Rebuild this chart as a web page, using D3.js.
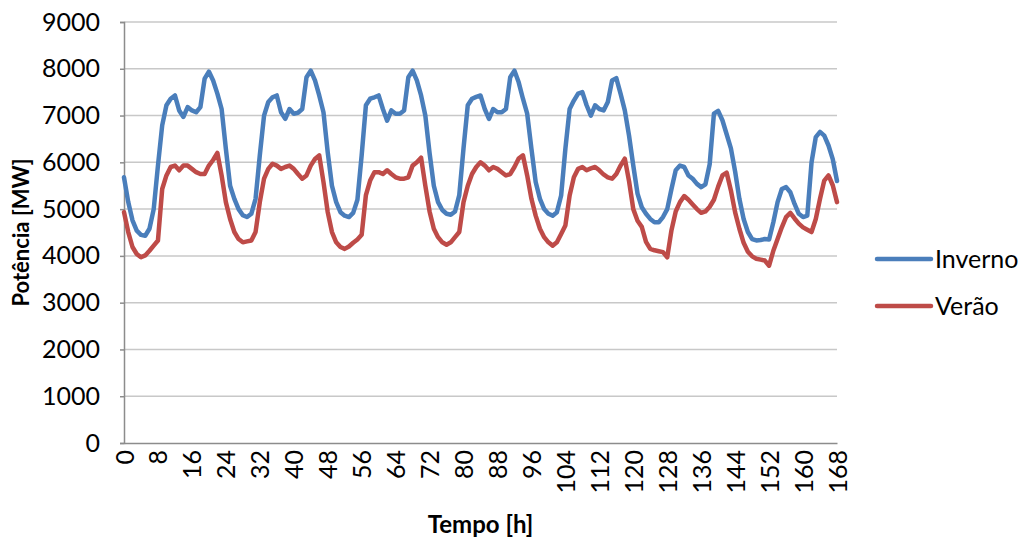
<!DOCTYPE html>
<html>
<head>
<meta charset="utf-8">
<script src="https://cdn.jsdelivr.net/npm/d3@7"></script>
<style>
  html, body { margin: 0; padding: 0; background: #ffffff; }
  svg { display: block; }
  text { font-family: Lato, "Open Sans", sans-serif; fill: #000; }
</style>
</head>
<body>
<svg id="chart" width="1019" height="539"></svg>
<script>
// Hourly load over one week (0..168 h), in MW
const hours = d3.range(0, 169);

const inverno = [
  5680, 5150, 4760, 4540, 4450, 4430, 4580, 5000, 5930, 6790, 7220, 7360, 7430, 7110, 6970, 7180,
  7110, 7070, 7180, 7790, 7940, 7750, 7470, 7140, 6290, 5500, 5220, 5000, 4870, 4830, 4900, 5220,
  6150, 7000, 7290, 7390, 7430, 7070, 6930, 7140, 7040, 7060, 7140, 7820, 7960, 7750, 7430, 7070,
  6215, 5500, 5150, 4935, 4860, 4830, 4920, 5200, 6150, 7220, 7360, 7390, 7430, 7140, 6890, 7110,
  7040, 7040, 7110, 7820, 7960, 7750, 7430, 7000, 6200, 5500, 5150, 4980, 4900, 4880, 4950, 5300,
  6300, 7220, 7360, 7400, 7430, 7140, 6930, 7140, 7070, 7070, 7140, 7820, 7960, 7710, 7360, 7040,
  6290, 5580, 5220, 5000, 4900, 4860, 4935, 5290, 6290, 7140, 7320, 7470, 7500, 7220, 7000, 7220,
  7140, 7110, 7290, 7750, 7800, 7470, 7110, 6570, 5930, 5330, 5040, 4900, 4790, 4720, 4720, 4830,
  5000, 5430, 5830, 5930, 5900, 5720, 5650, 5540, 5470, 5530, 5960, 7040, 7100, 6900, 6600, 6300,
  5800, 5220, 4790, 4510, 4360, 4330, 4340, 4360, 4350, 4720, 5150, 5430, 5470, 5360, 5110, 4900,
  4830, 4860, 6000, 6540, 6650, 6570, 6360, 6070, 5600
];

const verao = [
  4935, 4510, 4190, 4040, 3970, 4010, 4110, 4220, 4330, 5430, 5720, 5900, 5930, 5830, 5930, 5930,
  5860, 5790, 5750, 5750, 5930, 6050, 6200, 5720, 5150, 4790, 4510, 4360, 4290, 4310, 4330, 4510,
  5150, 5650, 5860, 5970, 5930, 5860, 5900, 5930, 5860, 5750, 5650, 5720, 5930, 6070, 6150, 5580,
  4935, 4510, 4290, 4190, 4150, 4200, 4280, 4350, 4450, 5300, 5610, 5790, 5790, 5750, 5830, 5750,
  5680, 5650, 5650, 5680, 5930, 6000, 6100, 5500, 4950, 4580, 4400, 4290, 4240, 4290, 4400, 4510,
  5150, 5500, 5750, 5900, 6000, 5930, 5830, 5900, 5860, 5790, 5720, 5750, 5900, 6080, 6150, 5720,
  5220, 4860, 4580, 4400, 4290, 4220, 4290, 4470, 4650, 5290, 5680, 5860, 5900, 5830, 5870, 5900,
  5830, 5740, 5680, 5650, 5750, 5930, 6080, 5600, 5000, 4750, 4620, 4300, 4150, 4120, 4100, 4080,
  3970, 4550, 4950, 5150, 5280, 5200, 5100, 5000, 4920, 4950, 5050, 5200, 5480, 5720, 5780, 5400,
  4930, 4580, 4280, 4090, 3990, 3940, 3920, 3900, 3790, 4110, 4360, 4610, 4830, 4920, 4800, 4690,
  4610, 4560, 4510, 4790, 5220, 5610, 5720, 5510, 5150
];

const yTicks = [0, 1000, 2000, 3000, 4000, 5000, 6000, 7000, 8000, 9000];
const xTicks = d3.range(0, 169, 8);

const seriesNames = ["Inverno", "Verão"];
const seriesColors = ["#4a7ebb", "#be4b48"];
const seriesValues = [inverno, verao];

const svg = d3.select("#chart");
const margin = { left: 124, right: 182, top: 22, bottom: 96 };
const W = 1019, H = 539;

const x = d3.scaleLinear().domain([0, 168]).range([margin.left, W - margin.right]);
const y = d3.scaleLinear().domain([0, 9000]).range([H - margin.bottom, margin.top]);

// horizontal gridlines
svg.append("g")
  .selectAll("line")
  .data(yTicks.filter(d => d > 0))
  .join("line")
  .attr("x1", x(0)).attr("x2", x(168))
  .attr("y1", d => y(d)).attr("y2", d => y(d))
  .attr("stroke", "#c8c8c8").attr("stroke-width", 1.5);

// y axis
const yAxis = svg.append("g")
  .attr("transform", `translate(${x(0)},0)`)
  .call(d3.axisLeft(y).tickValues(yTicks).tickSize(4).tickPadding(20).tickFormat(d3.format("d")));
yAxis.select(".domain").attr("stroke", "#8c8c8c").attr("stroke-width", 1.5);
yAxis.selectAll(".tick line").attr("stroke", "#8c8c8c").attr("stroke-width", 1.5);
yAxis.selectAll("text").attr("font-size", 25).attr("fill", "#000")
  .style("font-family", "Lato, sans-serif");

// x axis
const xAxis = svg.append("g")
  .attr("transform", `translate(0,${y(0)})`)
  .call(d3.axisBottom(x).tickValues(xTicks).tickSize(0).tickPadding(0).tickFormat(d3.format("d")));
xAxis.select(".domain").attr("stroke", "#8c8c8c").attr("stroke-width", 1.5);
xAxis.selectAll("text")
  .attr("font-size", 25).attr("fill", "#000")
  .attr("text-anchor", "end")
  .attr("transform", "translate(0,7) rotate(-90)")
  .attr("x", 0).attr("y", 0).attr("dy", "0.36em")
  .style("font-family", "Lato, sans-serif");

// series lines
const line = d3.line()
  .x((d, i) => x(hours[i]))
  .y(d => y(d));

svg.append("g")
  .selectAll("path")
  .data(seriesValues)
  .join("path")
  .attr("d", d => line(d))
  .attr("fill", "none")
  .attr("stroke", (d, i) => seriesColors[i])
  .attr("stroke-width", 4.5)
  .attr("stroke-linejoin", "round")
  .attr("stroke-linecap", "round");

// axis titles
svg.append("text")
  .attr("transform", `translate(29,${(y(0) + y(9000)) / 2}) rotate(-90)`)
  .attr("text-anchor", "middle")
  .attr("font-size", 22).attr("font-weight", "bold")
  .text("Potência [MW]");

svg.append("text")
  .attr("x", (x(0) + x(168)) / 2).attr("y", 533)
  .attr("text-anchor", "middle")
  .attr("font-size", 24).attr("font-weight", "bold")
  .text("Tempo [h]");

// legend
const legend = svg.append("g")
  .selectAll("g")
  .data(seriesNames)
  .join("g")
  .attr("transform", (d, i) => `translate(877,${259 + i * 47})`);
legend.append("line")
  .attr("x1", 0).attr("x2", 54)
  .attr("stroke", (d, i) => seriesColors[i])
  .attr("stroke-width", 4.5)
  .attr("stroke-linecap", "round");
legend.append("text")
  .attr("x", 58).attr("dy", "0.35em")
  .attr("font-size", 25)
  .text(d => d);
</script>
</body>
</html>
